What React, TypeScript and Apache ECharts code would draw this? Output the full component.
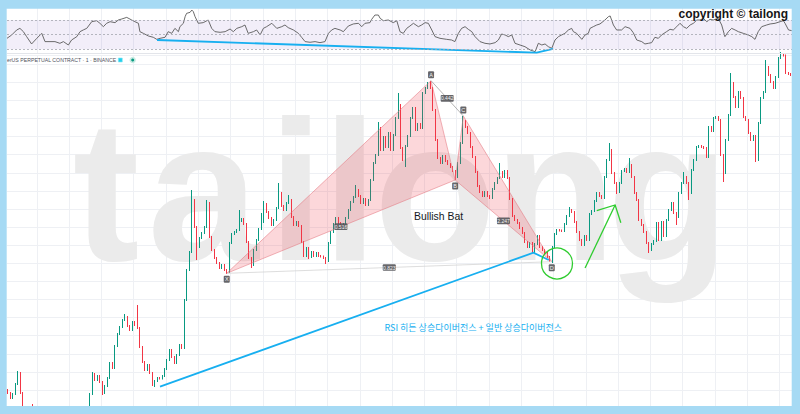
import React, { useEffect, useRef } from "react";
import * as echarts from "echarts";

// ---- price data (1 unit = 1 px above the reference grid line) ----
const firstOpen = 0;
const closes = [
  -3, -8, -4, 6, 17, -3, -18, -24, -28, -25,
  -30, -34, -37, -33, -39, -41, -37, -35, -39, -36,
  -31, -34, -37, -33, -29, -27, -30, -25, -28, -24,
  -26, -21, -19, -4, 16, 10, 14, 8, -3, 4,
  12, 27, 22, 44, 56, 63, 70, 73, 64, 60,
  68, 65, 62, 43, 28, 20, 25, 17, 5, 9,
  12, 11.5, 14, 21, 30, 40, 33, 27, 35, 45,
  42, 90, 120, 138, 190, 163, 143, 152, 157, 163,
  187, 153, 140, 132, 127, 122, 125, 120, 118, 147,
  156, 158, 160, 169, 171, 166, 148, 132, 125, 140,
  150, 161, 168, 186, 178, 172, 165, 170, 182, 197,
  184, 180, 187, 190, 173, 165, 168, 164, 148, 134,
  142, 133, 138, 134, 137, 134, 133.5, 132, 129, 147,
  158, 166, 172, 167, 164, 166, 172, 180, 188, 193,
  200, 194, 187, 191, 185, 190, 210, 227, 235, 262,
  240, 253, 243, 257, 240, 255, 272, 285, 242, 230,
  244, 254, 272, 282, 260, 266, 262, 297, 302, 305,
  302, 280, 250, 232, 227, 234, 229, 226, 223, 219,
  213, 227, 247, 269, 263, 257, 243, 233, 218, 204,
  198, 194, 198, 194, 192, 201, 207, 212, 218, 213,
  219, 212, 191, 174, 170, 167, 162, 157, 148, 143,
  147, 138, 146, 154, 143, 140, 137, 133, 130, 143,
  156, 160, 159.5, 159, 166, 174, 180, 178, 168, 158,
  150, 145, 154, 150, 176, 179, 189, 197, 194, 192,
  213, 230, 240, 217, 207, 198, 207, 219, 221, 218,
  225, 213, 197, 190, 170, 165, 158, 147, 140, 146,
  149, 167, 150, 168, 154, 170, 180, 187, 177, 173,
  197, 207, 213, 207, 197, 220, 230, 243, 244, 243,
  242, 233, 263, 259, 272, 273, 270, 235, 217, 250,
  275, 307, 293, 283, 298, 292, 273, 270, 257, 250,
  254, 230, 267, 292, 298, 323, 315, 308, 302, 313,
  332, 335, 334.5, 317, 316, 315,
];
// long wicks: [candle index, price]
const wickHighs = [
  [4, 19], [10, -14], [34, 18], [47, 76], [52, 85], [74, 200], [80, 190], [93, 180],
  [102, 177], [103, 189], [109, 207], [113, 195], [140, 205], [149, 268], [157, 297],
  [169, 308], [170, 309], [183, 274], [198, 227], [226, 183], [242, 247], [250, 232],
  [272, 218], [291, 317], [305, 330], [311, 338],
];
const wickLows = [
  [38, -5], [59, 3], [76, 130], [88, 116], [98, 122], [121, 131], [128, 126], [160, 223],
  [180, 210], [218, 128], [219, 127], [245, 196], [258, 137], [269, 165], [274, 190],
  [288, 208], [301, 228],
];

// ---- RSI trace: [candle index, RSI] ----
const rsiPoints = [
  [-0.5, 44.9], [1.4, 49.5], [3.4, 56.3], [4.7, 58.5], [6.1, 54], [7.4, 47.2], [9.4, 37.2], [11.5, 44.9], [13.5, 51.7], [14.8, 40.4],
  [16.8, 40.4], [18.8, 40.4], [20.8, 38.1], [22.2, 40.4], [24.2, 35.8], [25.5, 42.6], [27.6, 47.2], [28.9, 54], [30.2, 56.3], [31.6, 58.5],
  [33.6, 67.6], [35.6, 69], [36.9, 65.4], [38.3, 60.8], [39.6, 65.4], [41, 67.6], [43, 66.3], [44.3, 69.9], [45.7, 71.3], [47.7, 73.5],
  [49.7, 69.9], [51, 67.6], [52.4, 65.4], [53, 54], [54.4, 51.7], [56.4, 48.1], [58.4, 46.3], [59.8, 43.5], [61.1, 44.9], [63.1, 46.3],
  [64.4, 54], [65.8, 51.7], [67.1, 58.5], [68.5, 54], [69.1, 60.8], [70.5, 65.4], [71.2, 74.5], [71.8, 79], [73.2, 80.4], [73.9, 83.5],
  [74.5, 81.3], [75.2, 74.5], [76.5, 65.4], [78.5, 66.3], [80.5, 69.9], [81.9, 58.5], [83.2, 54], [85.3, 53.1], [87.3, 54], [89.3, 57.6],
  [90.6, 54], [92, 58.5], [94, 60.8], [95.3, 63.1], [96.6, 51.7], [98.7, 54], [100, 56.3], [101.4, 49.5], [102.7, 58.5], [104, 60.8],
  [106.1, 65.4], [108.1, 58.5], [110.1, 60.8], [111.4, 63.1], [112.7, 59.5], [114.8, 56.3], [116.8, 51.7], [118.1, 46.3], [119.5, 40.4], [121.5, 39.5],
  [123.5, 40.4], [125.5, 39], [127.5, 40.4], [128.9, 51.7], [130.2, 56.3], [131.5, 58.5], [133.6, 56.3], [134.9, 54], [136.9, 61.7], [138.9, 64.5],
  [141, 65.4], [142.3, 60.8], [143.6, 65.4], [145.6, 66.3], [146.3, 70.8], [147.6, 76.7], [149, 76.7], [149.7, 72.2], [151, 69], [153, 69.9],
  [155, 66.3], [156.4, 69], [157.7, 54], [159, 51.7], [160.4, 58.5], [161.7, 61.7], [163.1, 65.4], [165.1, 60.8], [166.4, 63.1], [167.8, 66.3],
  [169.1, 65.4], [170.5, 56.3], [171.8, 47.2], [173.8, 44.9], [176.5, 43.5], [178.5, 42.6], [179.8, 40.4], [181.2, 51.7], [182.5, 58.5], [183.9, 60.8],
  [185.2, 57.2], [186.6, 54], [187.9, 47.2], [189.9, 40.4], [191.9, 38.1], [193.9, 37.2], [196, 39], [197.3, 42.6], [198.6, 50.8], [200, 49.5],
  [201.3, 47.2], [202.7, 49.5], [204, 38.1], [206, 35.8], [208, 33.5], [210.1, 29], [212.1, 26.7], [213.4, 38.1], [214.8, 35.8], [216.1, 37.2],
  [217.4, 33.5], [218.8, 31.3], [220.1, 42.6], [221.5, 47.2], [222.8, 49.5], [224.1, 51.7], [225.5, 56.3], [226.8, 58.5], [227.5, 54], [228.8, 51.7],
  [230.9, 43.5], [232.2, 49.5], [233.5, 51.7], [234.2, 58.5], [235.5, 60.8], [236.9, 63.1], [238.2, 64.5], [240.2, 69.9], [241.6, 74.5], [242.3, 75.4],
  [243.6, 63.1], [244.9, 56.3], [246.9, 56.3], [248.3, 60.8], [250.3, 58.5], [251.6, 52.6], [253, 42.6], [255, 40.4], [256.3, 37.2], [257.7, 38.1],
  [259, 39], [260.3, 46.3], [261.7, 44.9], [263, 49.5], [265, 54], [266.4, 57.2], [267.7, 56.3], [269.1, 60.8], [270.4, 65.4], [271.8, 60.8],
  [273.1, 58.5], [274.5, 63.1], [275.8, 65.4], [277.2, 69.9], [278.5, 69.9], [279.8, 72.2], [281.2, 67.6], [282.5, 70.8], [283.8, 69.9], [285.8, 72.2],
  [287.2, 63.1], [288.5, 47.2], [289.9, 54], [291.2, 58.5], [292.6, 56.3], [293.9, 54], [295.9, 51.7], [297.9, 49.5], [299.3, 47.2], [300.6, 43.5],
  [301.9, 54], [303.3, 60.8], [305.3, 63.1], [306.7, 64.5], [308.7, 65.4], [310.7, 67.6], [312, 69], [312.7, 65.4], [314.1, 56.3], [315.4, 55.4],
];
const rsiLevels = [70, 50, 30];

// ---- harmonic pattern ----
const patternNames = ["X", "A", "B", "C", "D"];
const patternIdx = [87.95, 170.2, 179.9, 183.2, 218.8];
const patternVal = [116.7, 309.3, 210, 274, 128.3];
const ratioLabels = ["0.516", "0.442", "2.247", "0.823"];
const ratioPairs = [[0, 2], [1, 3], [2, 4], [0, 4]];
const patternTitle = "Bullish Bat";
const patternTitleAt = [173.2, 173.5];

// ---- divergence drawings ----
const priceDivIdx = [61.1, 211.4, 217.6];
const priceDivVal = [3.3, 137.3, 130];
const rsiDivIdx = [59.9, 212.7, 219.3];
const rsiDivVal = [42.6, 25.3, 30.4];
const circleAt = [220.9, 126.5];
const arrowIdx = [232.2, 244.3];
const arrowVal = [122, 185];
const arrowWingIdx = [236.9, 246.6];
const arrowWingVal = [179.3, 167.3];
const noteText = "RSI 히든 상승다이버전스 + 일반 상승다이버전스";
const noteAt = [187.2, 63];

// ---- texts ----
const symbolTitle = "erUS PERPETUAL CONTRACT · 1 · BINANCE";
const copyrightText = "copyright © tailong";
const watermarkLetters = ["t", "a", "i", "l", "o", "n", "g"];

const UP = "#089981";
const DOWN = "#f23645";
const BLUE = "#17aff0";
const GREEN = "#2fcc2f";
const GRID = "#eef0f4";
const FRAME = "#a6daf4";
const FONT = '"Liberation Sans", Arial, sans-serif';

export default function App() {
  const ref = useRef<HTMLDivElement>(null);

  useEffect(() => {
    const chart = echarts.init(ref.current!, undefined, { renderer: "svg", width: 800, height: 414 });
    const N = closes.length;
    const cats = closes.map((_, i) => String(i));
    const hi = new Map(wickHighs.map((p) => [p[0], p[1]] as [number, number]));
    const lo = new Map(wickLows.map((p) => [p[0], p[1]] as [number, number]));
    const candles = closes.map((c, i) => {
      const o = i === 0 ? firstOpen : closes[i - 1];
      const h = hi.has(i) ? hi.get(i)! : Math.max(o, c) + 1;
      const l = lo.has(i) ? lo.get(i)! : Math.min(o, c) - 1;
      return [o, c, l, h];
    });
    const splitInterval = (idx: number) => idx % 13 === 12;

    const renderOverlay = (_params: any, api: any) => {
      const pt = (i: number, v: number) => api.coord([i, v]);
      const P = patternIdx.map((x, k) => pt(x, patternVal[k]));
      const ch: any[] = [];
      const tri = { fill: "rgba(242,54,69,0.2)", stroke: "rgba(228,120,130,0.7)", lineWidth: 0.8 };
      ch.push({ type: "polygon", shape: { points: [P[0], P[1], P[2]] }, style: tri });
      ch.push({ type: "polygon", shape: { points: [P[2], P[3], P[4]] }, style: tri });
      ch.push({ type: "line", shape: { x1: P[1][0], y1: P[1][1], x2: P[3][0], y2: P[3][1] }, style: { stroke: "#a0a0a0", lineWidth: 0.8 } });
      ch.push({ type: "line", shape: { x1: P[0][0], y1: P[0][1], x2: P[4][0], y2: P[4][1] }, style: { stroke: "#d4d4d4", lineWidth: 0.8 } });
      ratioPairs.forEach((pr, k) => {
        const mx = (P[pr[0]][0] + P[pr[1]][0]) / 2;
        const my = (P[pr[0]][1] + P[pr[1]][1]) / 2;
        ch.push({ type: "rect", shape: { x: mx - 6.5, y: my - 3.3, width: 13, height: 6.6, r: 1 }, style: { fill: "rgba(85,85,90,0.9)" } });
        ch.push({ type: "text", x: mx, y: my, style: { text: ratioLabels[k], fill: "#f2f2f2", font: `5px ${FONT}`, align: "center", verticalAlign: "middle" } });
      });
      patternNames.forEach((name, k) => {
        const dir = k % 2 === 0 ? 1 : -1;
        const cx = P[k][0];
        const cy = P[k][1] + dir * 6;
        ch.push({ type: "rect", shape: { x: cx - 3, y: cy - 3.5, width: 6, height: 7, r: 1 }, style: { fill: "rgba(85,85,90,0.9)" } });
        ch.push({ type: "text", x: cx, y: cy, style: { text: name, fill: "#f2f2f2", font: `5.5px ${FONT}`, align: "center", verticalAlign: "middle" } });
      });
      const tp = pt(patternTitleAt[0], patternTitleAt[1]);
      ch.push({ type: "text", x: tp[0], y: tp[1], style: { text: patternTitle, fill: "#131722", font: `10.4px ${FONT}`, align: "center", verticalAlign: "middle" } });

      ch.push({ type: "polyline", shape: { points: priceDivIdx.map((x, k) => pt(x, priceDivVal[k])) }, style: { stroke: BLUE, lineWidth: 1.8, fill: "none" } });
      const cc = pt(circleAt[0], circleAt[1]);
      ch.push({ type: "circle", shape: { cx: cc[0], cy: cc[1], r: 15.5 }, style: { fill: "none", stroke: GREEN, lineWidth: 1.3 } });
      const a0 = pt(arrowIdx[0], arrowVal[0]);
      const a1 = pt(arrowIdx[1], arrowVal[1]);
      const w0 = pt(arrowWingIdx[0], arrowWingVal[0]);
      const w1 = pt(arrowWingIdx[1], arrowWingVal[1]);
      ch.push({ type: "polyline", shape: { points: [a0, a1] }, style: { stroke: GREEN, lineWidth: 1.3, fill: "none" } });
      ch.push({ type: "polyline", shape: { points: [w0, a1, w1] }, style: { stroke: GREEN, lineWidth: 1.3, fill: "none" } });
      const np = pt(noteAt[0], noteAt[1]);
      ch.push({ type: "text", x: np[0], y: np[1], style: { text: noteText, fill: BLUE, font: `9px "Noto Sans CJK KR", sans-serif`, align: "center", verticalAlign: "middle" } });
      return { type: "group", children: ch };
    };

    const wmX = [106, 203, 296, 350, 435, 555, 668];
    const graphics: any[] = watermarkLetters.map((t, k) => ({
      type: "text",
      z: 1,
      silent: true,
      x: wmX[k],
      y: 190.7,
      style: { text: t, fill: "#ebebeb", font: `bold 200px ${FONT}`, align: "center", verticalAlign: "middle", textAlign: "center", textVerticalAlign: "middle" },
    }));
    graphics.push(
      { type: "line", z: 3, shape: { x1: 7, y1: 53.5, x2: 792, y2: 53.5 }, style: { stroke: "#e3e5ea", lineWidth: 1 } },
      { type: "text", z: 10, x: 7, y: 60.4, style: { text: symbolTitle, fill: "#50535e", font: `5.2px ${FONT}`, align: "left", verticalAlign: "middle", textAlign: "left", textVerticalAlign: "middle" } },
      { type: "rect", z: 10, shape: { x: 118.3, y: 58, width: 4, height: 4 }, style: { fill: "#20d0ec", stroke: "#8ce6f4", lineWidth: 0.6 } },
      { type: "circle", z: 10, shape: { cx: 132.7, cy: 60, r: 3.2 }, style: { fill: "#c9ebe3" } },
      { type: "circle", z: 10, shape: { cx: 132.7, cy: 60, r: 1.5 }, style: { fill: UP } },
      { type: "text", z: 10, x: 788, y: 14.2, style: { text: copyrightText, fill: "#161616", font: `bold 12px ${FONT}`, align: "right", verticalAlign: "middle", textAlign: "right", textVerticalAlign: "middle" } },
      { type: "rect", z: 100, shape: { x: 0, y: 0, width: 800, height: 8.7 }, style: { fill: FRAME } },
      { type: "rect", z: 100, shape: { x: 0, y: 0, width: 6.7, height: 414 }, style: { fill: FRAME } },
      { type: "rect", z: 100, shape: { x: 791.7, y: 0, width: 8.3, height: 414 }, style: { fill: FRAME } },
      { type: "rect", z: 100, shape: { x: 0, y: 406, width: 800, height: 8 }, style: { fill: FRAME } }
    );

    const catAxis = (gridIndex: number) => ({
      type: "category",
      gridIndex,
      data: cats,
      boundaryGap: true,
      axisLine: { show: false },
      axisTick: { show: false },
      axisLabel: { show: false },
      splitLine: { show: true, interval: splitInterval, lineStyle: { color: GRID, width: 1 } },
    });

    chart.setOption({
      animation: false,
      backgroundColor: "#ffffff",
      grid: [
        { left: 7, right: 8, top: 55, bottom: 5.9 },
        { left: 7, right: 8, top: 8, height: 46 },
      ],
      xAxis: [
        catAxis(0),
        { type: "value", gridIndex: 0, min: -0.5, max: N - 0.5, show: false },
        catAxis(1),
        { type: "value", gridIndex: 1, min: -0.5, max: N - 0.5, show: false },
      ],
      yAxis: [
        {
          type: "value",
          gridIndex: 0,
          min: -18.1,
          max: 335,
          interval: 18.1,
          axisLine: { show: false },
          axisTick: { show: false },
          axisLabel: { show: false },
          splitLine: { show: true, lineStyle: { color: GRID, width: 1 } },
        },
        { type: "value", gridIndex: 1, min: 23.5, max: 86.3, show: false },
      ],
      graphic: { elements: graphics },
      series: [
        {
          type: "candlestick",
          xAxisIndex: 0,
          yAxisIndex: 0,
          data: candles,
          barWidth: 1,
          clip: true,
          z: 2,
          itemStyle: { color: UP, color0: DOWN, borderColor: UP, borderColor0: DOWN, borderColorDoji: UP, borderWidth: 1 },
        },
        {
          type: "custom",
          xAxisIndex: 1,
          yAxisIndex: 0,
          data: [[0, 0]],
          z: 5,
          silent: true,
          renderItem: renderOverlay,
        },
        {
          type: "line",
          xAxisIndex: 3,
          yAxisIndex: 1,
          data: rsiPoints,
          symbol: "none",
          silent: true,
          lineStyle: { color: "#5a5a5a", width: 0.9 },
          markArea: { silent: true, itemStyle: { color: "rgba(126,87,194,0.1)" }, data: [[{ yAxis: 30 }, { yAxis: 70 }]] },
          markLine: {
            silent: true,
            symbol: "none",
            label: { show: false },
            lineStyle: { color: "#a3a6ae", type: [2, 2], width: 0.8 },
            data: rsiLevels.map((v) => ({ yAxis: v })),
          },
        },
        {
          type: "line",
          xAxisIndex: 3,
          yAxisIndex: 1,
          data: rsiDivIdx.map((x, k) => [x, rsiDivVal[k]]),
          symbol: "none",
          silent: true,
          z: 4,
          lineStyle: { color: BLUE, width: 1.8 },
        },
      ],
    });
    return () => chart.dispose();
  }, []);

  return <div ref={ref} style={{ position: "fixed", left: 0, top: 0, width: 800, height: 414 }} />;
}
